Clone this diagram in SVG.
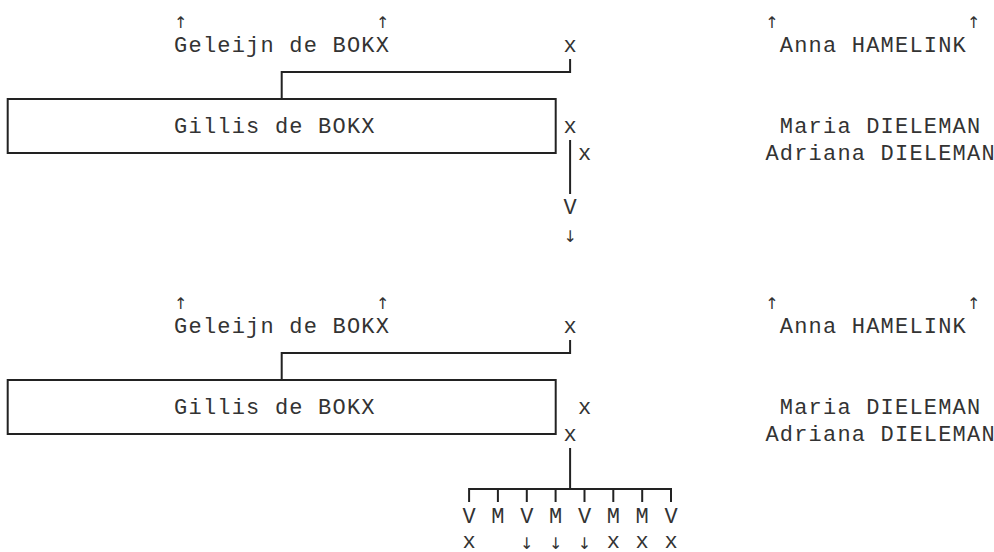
<svg xmlns="http://www.w3.org/2000/svg" width="994" height="552" viewBox="0 0 994 552">
<style>
.t{font-family:"Liberation Mono","DejaVu Sans Mono",monospace;font-size:22px;letter-spacing:1.2px;fill:#333;}
.c{font-family:"Liberation Mono","DejaVu Sans Mono",monospace;font-size:22px;fill:#333;text-anchor:middle;}
.a{font-family:"DejaVu Sans","Liberation Sans",sans-serif;font-size:16px;fill:#333;text-anchor:middle;}
.ln{stroke:#222;stroke-width:2;fill:none;}
.box{stroke:#222;stroke-width:2;fill:#fff;}
</style>
<rect width="994" height="552" fill="#fff"/>

<!-- Block 1 -->
<g id="block1">
  <g id="b1-connectors">
    <polyline class="ln" points="570.1,59 570.1,72 281.7,72 281.7,99"/>
    <line class="ln" x1="570.1" y1="140" x2="570.1" y2="194"/>
  </g>
  <g id="b1-geleijn">
    <text class="a" x="180.7" y="28">↑</text>
    <text class="a" x="382.6" y="28">↑</text>
    <text class="t" x="174.1" y="52">Geleijn de BOKX</text>
  </g>
  <g id="b1-x-father"><text class="c" x="570.1" y="52">x</text></g>
  <g id="b1-anna">
    <text class="a" x="772" y="28">↑</text>
    <text class="a" x="973.8" y="28">↑</text>
    <text class="t" x="779.8" y="52">Anna HAMELINK</text>
  </g>
  <g id="b1-gillis">
    <rect class="box" x="7.7" y="99" width="548" height="54"/>
    <text class="t" x="174.1" y="133">Gillis de BOKX</text>
  </g>
  <g id="b1-x1"><text class="c" x="570.1" y="133">x</text></g>
  <g id="b1-maria"><text class="t" x="779.8" y="133">Maria DIELEMAN</text></g>
  <g id="b1-x2"><text class="c" x="584.5" y="160">x</text></g>
  <g id="b1-adriana"><text class="t" x="765.4" y="160">Adriana DIELEMAN</text></g>
  <g id="b1-child">
    <text class="c" x="570.1" y="214">V</text>
    <text class="a" x="570.1" y="242">↓</text>
  </g>
</g>

<!-- Block 2 -->
<g id="block2">
  <g id="b2-connectors">
    <polyline class="ln" points="570.1,340 570.1,353 281.7,353 281.7,380"/>
    <line class="ln" x1="570.1" y1="448" x2="570.1" y2="489"/>
    <line class="ln" x1="469.1" y1="489" x2="671" y2="489"/>
    <path class="ln" d="M469.1,488 V502 M497.9,489 V502 M526.8,489 V502 M555.6,489 V502 M584.5,489 V502 M613.3,489 V502 M642.2,489 V502 M671,488 V502"/>
  </g>
  <g id="b2-geleijn">
    <text class="a" x="180.7" y="309">↑</text>
    <text class="a" x="382.6" y="309">↑</text>
    <text class="t" x="174.1" y="333">Geleijn de BOKX</text>
  </g>
  <g id="b2-x-father"><text class="c" x="570.1" y="333">x</text></g>
  <g id="b2-anna">
    <text class="a" x="772" y="309">↑</text>
    <text class="a" x="973.8" y="309">↑</text>
    <text class="t" x="779.8" y="333">Anna HAMELINK</text>
  </g>
  <g id="b2-gillis">
    <rect class="box" x="7.7" y="380" width="548" height="54"/>
    <text class="t" x="174.1" y="414">Gillis de BOKX</text>
  </g>
  <g id="b2-x1"><text class="c" x="584.5" y="414">x</text></g>
  <g id="b2-maria"><text class="t" x="779.8" y="414">Maria DIELEMAN</text></g>
  <g id="b2-x2"><text class="c" x="570.1" y="441">x</text></g>
  <g id="b2-adriana"><text class="t" x="765.4" y="441">Adriana DIELEMAN</text></g>
  <g id="b2-children">
    <text class="c" x="469.1" y="523">V</text>
    <text class="c" x="497.9" y="523">M</text>
    <text class="c" x="526.8" y="523">V</text>
    <text class="c" x="555.6" y="523">M</text>
    <text class="c" x="584.5" y="523">V</text>
    <text class="c" x="613.3" y="523">M</text>
    <text class="c" x="642.2" y="523">M</text>
    <text class="c" x="671" y="523">V</text>
    <text class="c" x="469.1" y="548">x</text>
    <text class="a" x="526.8" y="549">↓</text>
    <text class="a" x="555.6" y="549">↓</text>
    <text class="a" x="584.5" y="549">↓</text>
    <text class="c" x="613.3" y="548">x</text>
    <text class="c" x="642.2" y="548">x</text>
    <text class="c" x="671" y="548">x</text>
  </g>
</g>
</svg>
